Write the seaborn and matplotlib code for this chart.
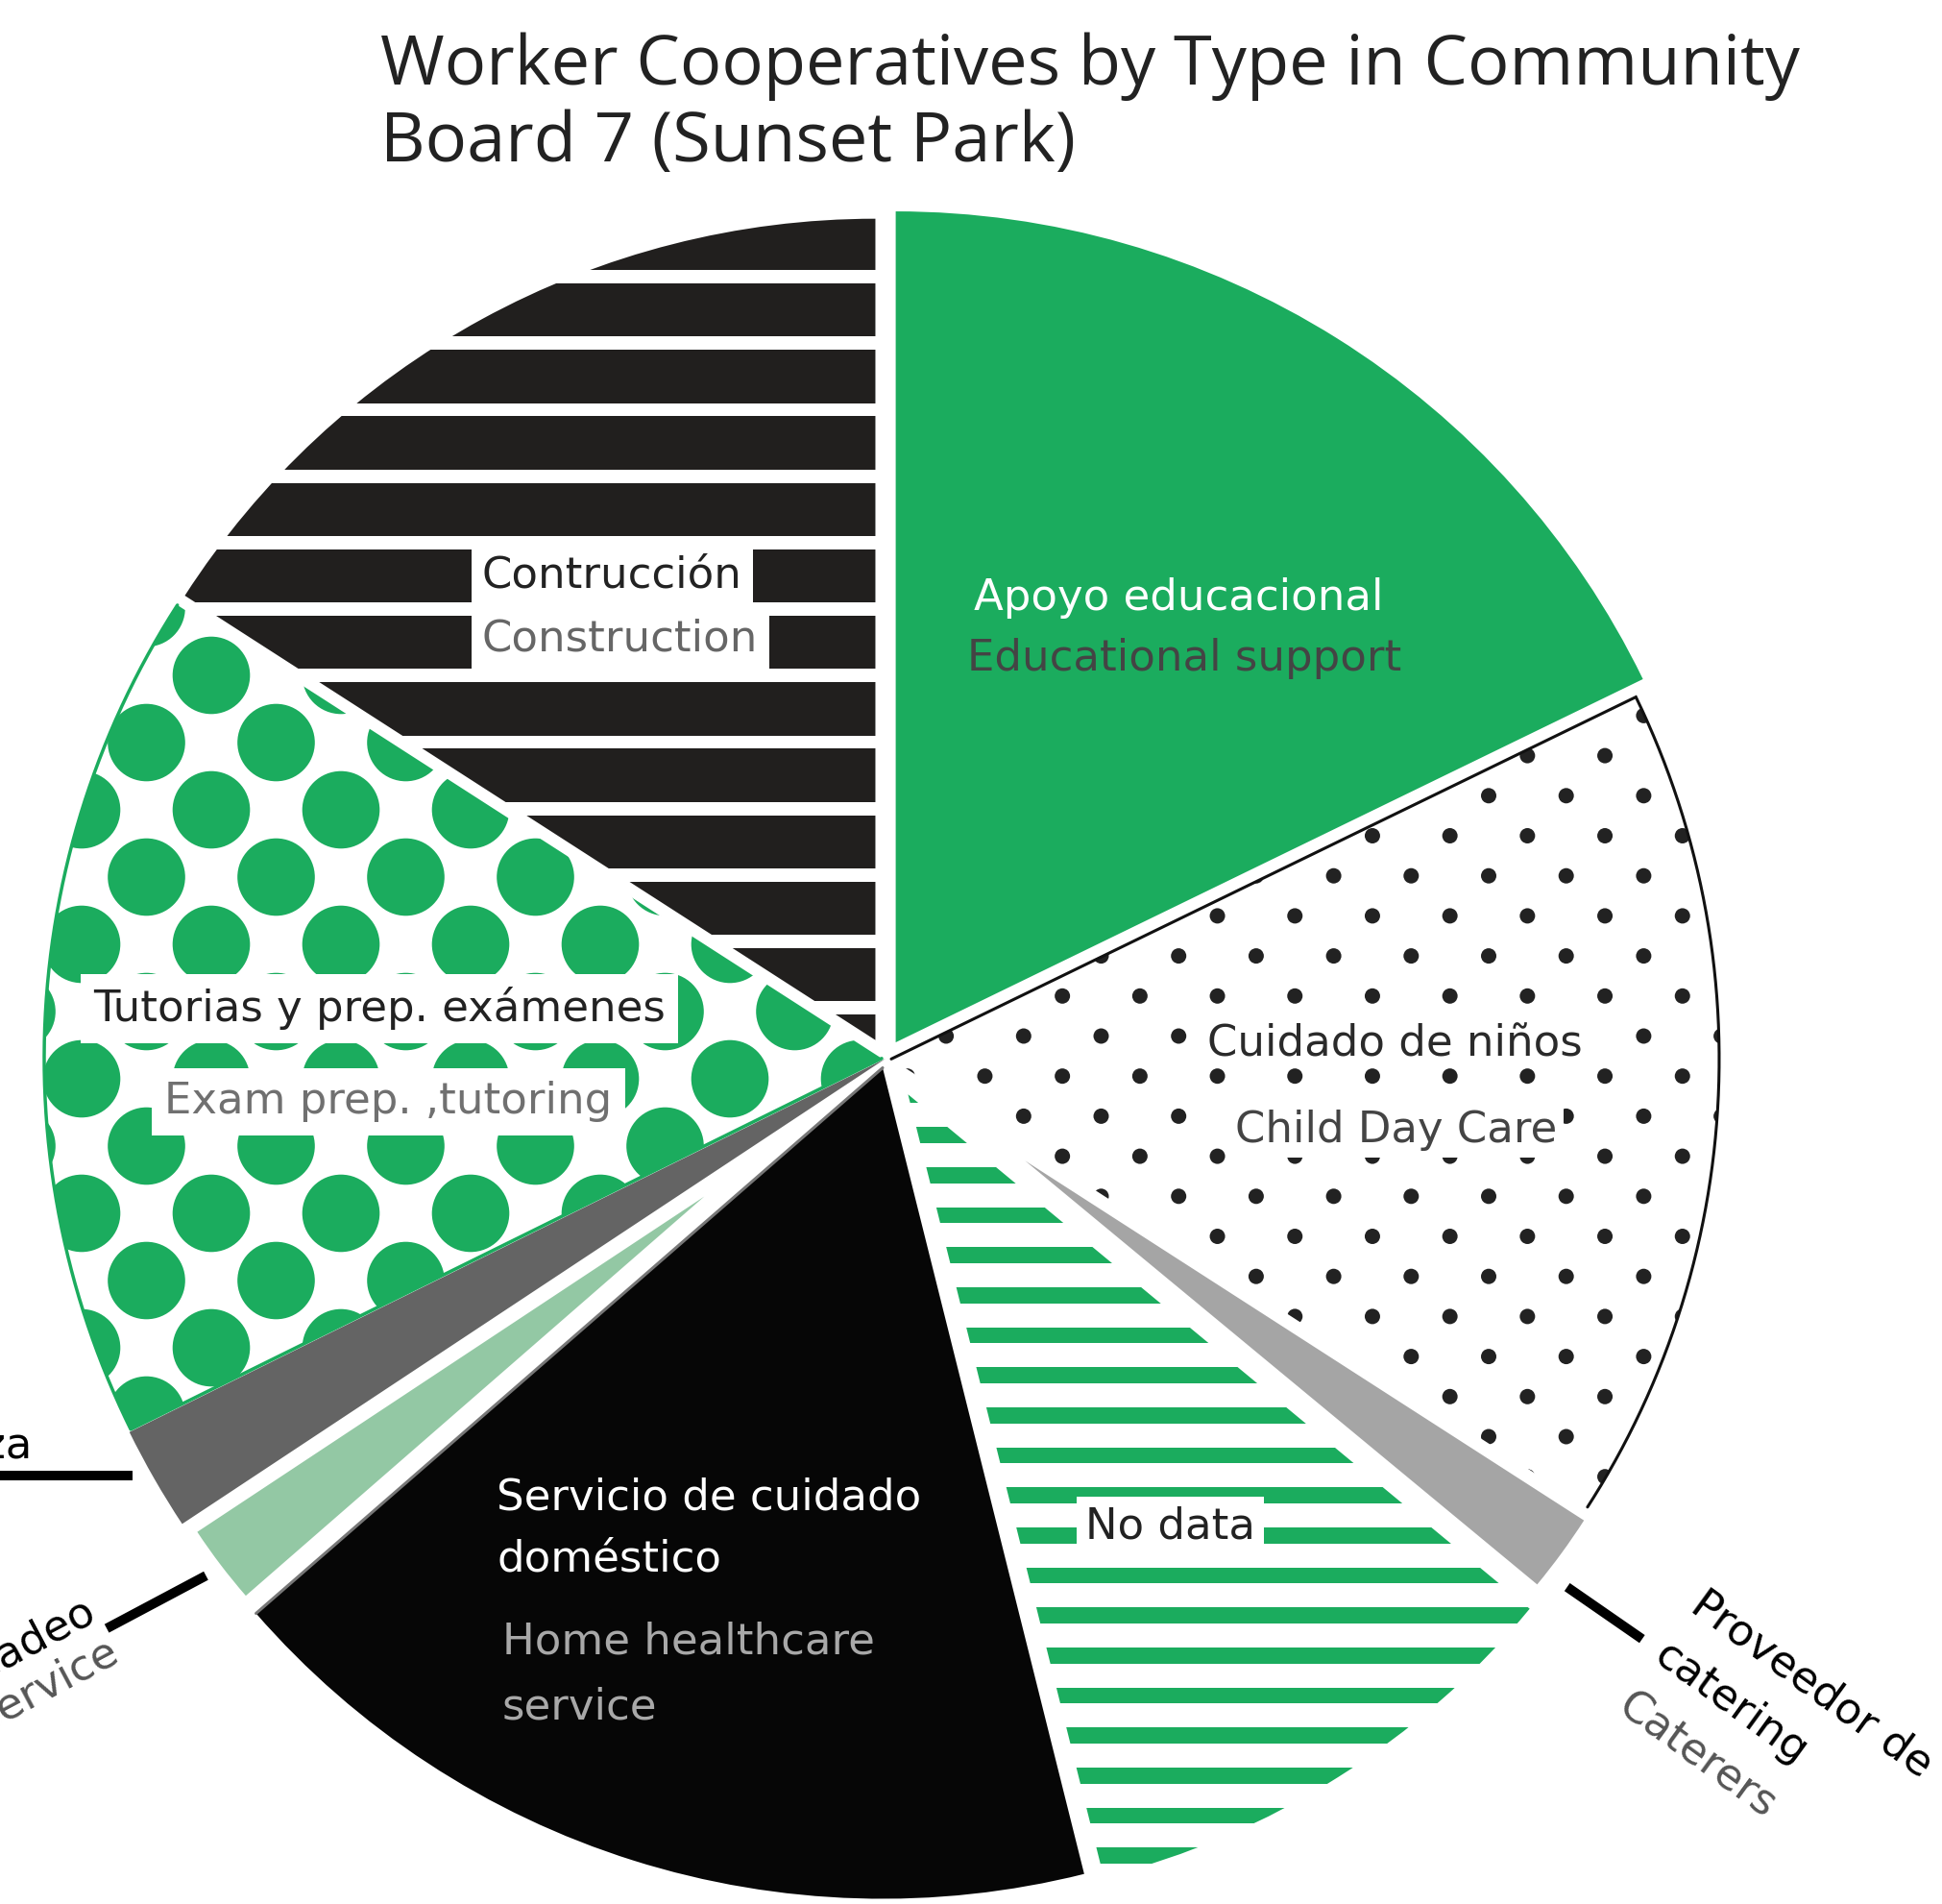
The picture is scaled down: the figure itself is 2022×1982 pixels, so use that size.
import numpy as np
import matplotlib
matplotlib.use("Agg")
import matplotlib.pyplot as plt
import seaborn as sns
from matplotlib.patches import Rectangle, Circle
from matplotlib.collections import PatchCollection

sns.set_theme(style="white")
plt.rcParams["font.family"] = ["DejaVu Sans"]

# ---------------- data ----------------
categories_es = ["Apoyo educacional", "Cuidado de niños", "Proveedor de\ncatering", "No data",
                 "Servicio de cuidado\ndoméstico", "Mercadeo", "Limpieza",
                 "Tutorias y prep. exámenes", "Contrucción"]
categories_en = ["Educational support", "Child Day Care", "Caterers", "",
                 "Home healthcare\nservice", "Marketing service", "",
                 "Exam prep. ,tutoring", "Construction"]
shares = [17.8, 16.3, 1.9, 10.1, 17.5, 2.1, 2.0, 16.4, 15.9]
title_lines = ["Worker Cooperatives by Type in Community", "Board 7 (Sunset Park)"]

# ---------------- layout / style ----------------
W, H = 2022, 1982
CX, CY, R0 = 922.0, 1102.0, 860.0
GREEN = "#1bac5e"
INK = "#211f1e"
face_colors = [GREEN, "white", "#a5a5a5", "white", "#060606", "#93c8a4", "#646464", "white", "white"]
explode_px = [20, 6, 180, 44, 10, 237, 0, 4, 22]
radius_px = [865, 862, 692, 840, 865, 633, 878, 872, 855]
FS = 32.4


def P(x, y):
    return ((x - CX) / R0, (CY - y) / R0)


def L(px):
    return px / R0


fig = plt.figure(figsize=(W / 100, H / 100), dpi=100)
fig.patch.set_facecolor("white")
ax = fig.add_axes([0, 0, 1, 1])

wedges, _ = ax.pie(shares, colors=face_colors, startangle=90, counterclock=False,
                   radius=1.0, center=(0, 0), explode=[e / R0 for e in explode_px],
                   wedgeprops=dict(linewidth=0))
for w, r in zip(wedges, radius_px):
    w.set_radius(r / R0)
    w.set_zorder(1)

xa, ya = P(0, H)
xb, yb = P(W, 0)
ax.set_xlim(xa, xb)
ax.set_ylim(ya, yb)
ax.set_aspect("equal")
ax.axis("off")


def add_hstripes(w, y_start_px, period_px, thick_px, color, ks):
    rects = []
    for k in ks:
        top = y_start_px + period_px * k
        x0, y0 = P(0, top + thick_px)
        rects.append(Rectangle((x0, y0), L(W), L(thick_px)))
    pc = PatchCollection(rects, facecolor=color, edgecolor="none", zorder=2)
    ax.add_collection(pc)
    pc.set_clip_path(w)


def add_dots(w, x0_px, y0_px, dx_px, dy_px, rad_px, color, rows, cols):
    circ = []
    for k in rows:
        off = 0 if k % 2 == 0 else -dx_px / 2
        for j in cols:
            c = P(x0_px + off + dx_px * j, y0_px + dy_px * k)
            circ.append(Circle(c, L(rad_px)))
    pc = PatchCollection(circ, facecolor=color, edgecolor="none", zorder=2)
    ax.add_collection(pc)
    pc.set_clip_path(w)


add_hstripes(wedges[8], 225.7, 69.2, 55.5, INK, range(0, 14))
add_dots(wedges[7], 220, 703, 135, 70, 40.3, GREEN, range(-3, 15), range(-2, 9))
add_dots(wedges[1], 1550, 828.3, 80.7, 41.7, 8, "#222222", range(-8, 21), range(-10, 5))
add_hstripes(wedges[3], 1548.3, 41.67, 16.7, GREEN, range(-13, 12))


def edge_pt(w, ang, extra=0.0):
    cx, cy = w.center
    a = np.deg2rad(ang)
    rr = w.r + extra
    return cx + rr * np.cos(a), cy + rr * np.sin(a)


def arc_xy(w, a_from, a_to, n=300):
    cx, cy = w.center
    angs = np.deg2rad(np.linspace(a_from, a_to, n))
    return cx + w.r * np.cos(angs), cy + w.r * np.sin(angs)


# child day care outline (upper edge + arc)
wc = wedges[1]
ax_, ay_ = arc_xy(wc, wc.theta2, wc.theta1)
ax.plot(np.r_[wc.center[0], ax_], np.r_[wc.center[1], ay_], color="#111111", lw=2.2, zorder=4,
        solid_joinstyle="miter")
# tutoring outline (arc + lower edge)
wt = wedges[7]
ax_, ay_ = arc_xy(wt, wt.theta1, wt.theta2)
ax.plot(np.r_[ax_, wt.center[0]], np.r_[ay_, wt.center[1]], color=GREEN, lw=2.5, zorder=4)
# home healthcare upper edge line
wb = wedges[4]
ex, ey = edge_pt(wb, wb.theta1)
ax.plot([wb.center[0], ex], [wb.center[1], ey], color="#777777", lw=2.2, zorder=4)

# leader lines: (slice, angle offset from mid, gap from arc px, direction deg, length px)
LW_LEAD = 7.2
leaders = [(2, -2.0, 26, -34.7, 95), (5, 0.0, 19, 208.0, 117), (6, -0.9, 18, 180.0, 170)]
for idx, dang, gap, direc, length in leaders:
    w = wedges[idx]
    mid = 0.5 * (w.theta1 + w.theta2)
    p1 = edge_pt(w, mid + dang, L(gap))
    d = np.deg2rad(direc)
    p2 = (p1[0] + L(length) * np.cos(d), p1[1] + L(length) * np.sin(d))
    ax.plot([p1[0], p2[0]], [p1[1], p2[1]], color="black", lw=LW_LEAD,
            solid_capstyle="butt", zorder=5)


def put(lines, x_px, y_px, color, rot=0.0, ha="left", lead_px=63, size=FS,
        box=None, family=None, zorder=6):
    th = np.deg2rad(rot)
    dvx, dvy = np.sin(th), np.cos(th)
    for i, s in enumerate(lines):
        px = x_px + dvx * lead_px * i
        py = y_px + dvy * lead_px * i
        kw = {}
        if family:
            kw["family"] = family
        if box is not None:
            kw["bbox"] = dict(boxstyle=f"square,pad={box}", facecolor="white", edgecolor="none")
        ax.text(*P(px, py), s, color=color, fontsize=size, rotation=rot,
                rotation_mode="anchor", ha=ha, va="baseline", zorder=zorder, **kw)


# title
put(title_lines, 396, 88, "#222222", lead_px=80, size=52.0, family=["Open Sans", "DejaVu Sans"])

# slice labels (Spanish + English)
put([categories_es[0]], 1227.5, 635, "white", ha="center")
put([categories_en[0]], 1233, 698, "#444444", ha="center")

put([categories_es[8]], 502, 612, "#222222", box=0.25)
put([categories_en[8]], 502, 678, "#666666", box=0.25)

put([categories_es[7]], 97, 1063, "#222222", box=0.3)
put([categories_en[7]], 171, 1159, "#707070", box=0.3)

put([categories_es[1]], 1257, 1099, "#2a2a2a", box=0.05)
put([categories_en[1]], 1286, 1189, "#444444", box=0.15)

put([categories_es[3]], 1130, 1601, "#222222", box=0.2)

put(categories_es[4].split("\n"), 517, 1572, "white", lead_px=63)
put(categories_en[4].split("\n"), 523, 1722, "#a8a8a8", lead_px=68)

put(categories_es[2].split("\n"), 1758, 1676, "black", rot=-36, lead_px=65)
put([categories_en[2]], 1758 - 0.588 * 130, 1676 + 0.809 * 130, "#555555", rot=-36)

put([categories_es[5]], 102, 1684, "black", rot=28, ha="right")
put([categories_en[5]], 126, 1729, "#555555", rot=28, ha="right")

put([categories_es[6]], 34, 1518, "black", ha="right")

fig.savefig("out.png", dpi=100, facecolor="white")
